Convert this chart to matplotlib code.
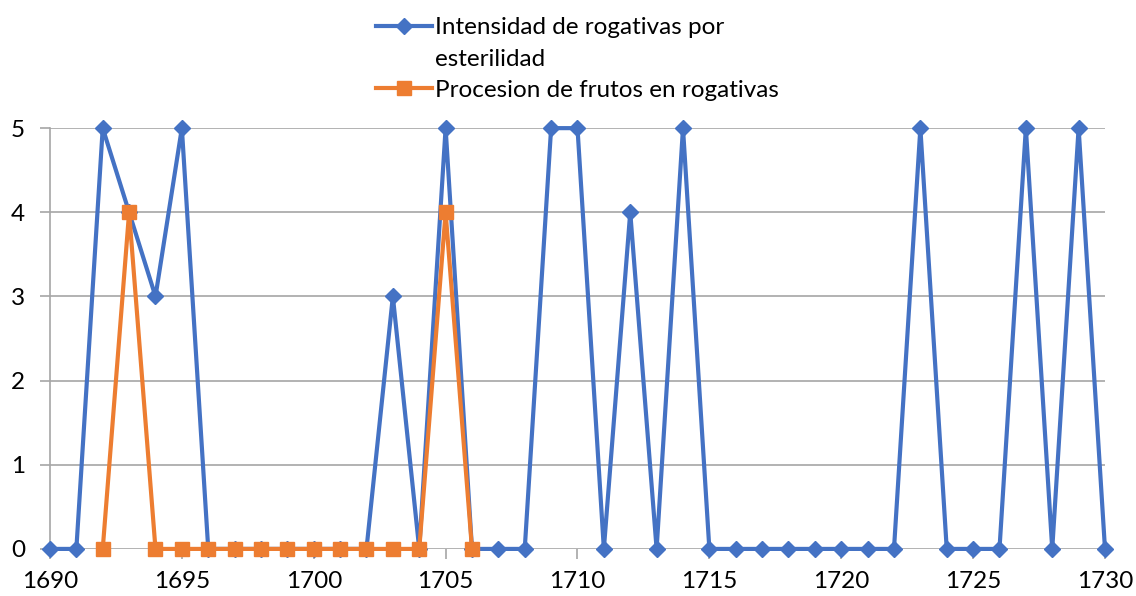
import matplotlib.pyplot as plt
from matplotlib.ticker import MultipleLocator

years = list(range(1690, 1731))
intensidad = [0, 0, 5, 4, 3, 5, 0, 0, 0, 0,
              0, 0, 0, 3, 0, 5, 0, 0, 0, 5,
              5, 0, 4, 0, 5, 0, 0, 0, 0, 0,
              0, 0, 0, 5, 0, 0, 0, 5, 0, 5,
              0]
years_frutos = list(range(1692, 1707))
frutos = [0, 4, 0, 0, 0, 0, 0, 0, 0, 0, 0, 0, 0, 4, 0]

plt.rcParams['font.family'] = ['Lato', 'DejaVu Sans']

fig = plt.figure(figsize=(11.36, 5.96), dpi=100)
ax = fig.add_axes([0.044, 0.079, 0.9287, 0.706])

l1, = ax.plot(years, intensidad, color='#4472C4', lw=3, marker='D', markersize=8.5,
              zorder=3)
l2, = ax.plot(years_frutos, frutos, color='#ED7D31', lw=3, marker='s', markersize=10,
              zorder=4)
# second line of the wrapped legend label, no handle
blank, = ax.plot([], [], color='none')

ax.set_xlim(1690, 1730)
ax.set_ylim(0, 5)
ax.xaxis.set_major_locator(MultipleLocator(5))
ax.yaxis.set_major_locator(MultipleLocator(1))
ax.yaxis.grid(True, color='#A6A6A6', lw=1.2, zorder=0)
for s in ['top', 'right', 'bottom']:
    ax.spines[s].set_visible(False)
ax.spines['left'].set_color('#A6A6A6')
ax.spines['left'].set_linewidth(1.2)
ax.tick_params(axis='both', colors='#A6A6A6', labelcolor='black', labelsize=17.5,
               length=7, width=1.2)
ax.tick_params(axis='x', pad=9)
ax.tick_params(axis='y', pad=11)
for line in [l1, l2]:
    line.set_clip_on(False)

leg = ax.legend([l1, blank, l2],
                ['Intensidad de rogativas por', 'esterilidad',
                 'Procesion de frutos en rogativas'],
                loc='lower center', bbox_to_anchor=(0.5, 1.065), frameon=False,
                fontsize=17.5, handlelength=2.3, handletextpad=0.15,
                labelspacing=0.42, borderaxespad=0, borderpad=0)

fig.savefig('out.png', dpi=100)
